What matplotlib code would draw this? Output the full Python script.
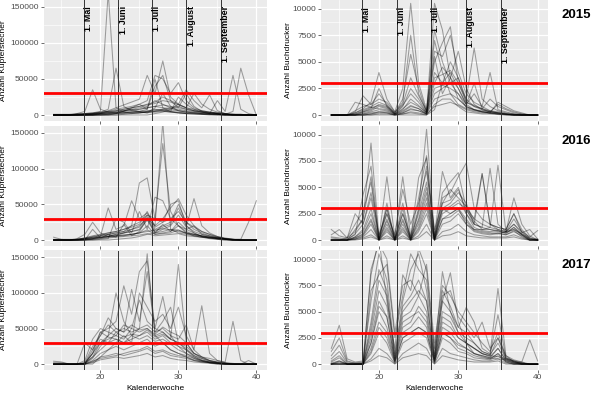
import matplotlib
matplotlib.use("Agg")
import matplotlib.pyplot as plt
import numpy as np
from matplotlib.ticker import MultipleLocator

plt.rcParams['font.family'] = ['Liberation Sans', 'DejaVu Sans']

weeks = list(range(14, 41))
years = ["2015", "2016", "2017"]
month_pos = [17.86, 22.29, 26.57, 31.0, 35.43]
month_labels = ["1. Mai", "1. Juni", "1. Juli", "1. August", "1. September"]
k_threshold = 30000
b_threshold = 3000

# Kupferstecher, values in thousands per trap
K15 = [
 [0,0,0,1,2,3,5,170,10,4,2,3,5,8,6,4,3,2,2,1,1,0,0,0,0,0,0],
 [0,0,0,0,1,2,4,8,65,12,6,4,3,5,7,5,3,2,1,1,0,0,0,0,0,0,0],
 [0,0,0,2,5,35,8,4,3,6,8,10,12,20,15,10,6,4,3,2,1,1,0,0,0,0,0],
 [0,0,0,0,0,1,3,6,10,14,18,22,55,30,75,25,15,10,6,4,2,1,0,0,0,0,0],
 [0,0,0,0,1,2,3,5,8,10,12,15,20,55,50,30,45,20,10,6,4,2,1,0,0,0,0],
 [0,0,0,0,0,0,2,4,6,8,10,12,15,18,25,20,15,10,30,15,8,4,2,0,0,0,0],
 [0,0,0,0,0,0,0,1,2,3,4,5,8,50,10,5,25,15,8,4,2,20,5,55,8,2,0],
 [0,0,0,0,0,0,0,0,0,1,2,3,4,6,8,10,12,8,6,4,3,2,1,5,65,28,0],
 [0,0,0,0,0,0,1,2,3,5,6,8,10,12,14,12,10,8,6,5,4,3,2,1,0,0,0],
 [0,0,0,1,2,3,4,5,6,8,10,12,14,16,20,18,14,10,8,6,4,3,2,1,1,0,0],
 [0,0,0,0,0,1,2,3,4,6,8,5,3,10,30,12,6,4,3,2,1,1,0,0,0,0,0],
 [1,1,1,2,2,2,2,3,3,4,4,5,6,7,8,7,6,5,4,3,2,2,1,1,1,0,0],
 [0,0,0,0,0,0,0,0,2,5,10,15,8,40,55,20,10,30,12,5,3,2,1,0,0,0,0],
 [0,0,0,0,0,0,0,0,0,0,0,0,0,2,4,8,15,35,20,10,28,6,2,0,0,0,0],
 [0,0,0,0,1,1,2,2,3,3,4,4,5,5,6,5,4,3,3,2,2,1,1,0,0,0,0],
 [0,0,0,1,1,2,3,4,5,6,7,8,10,12,10,9,8,6,5,4,3,2,1,1,0,0,0],
 [0,0,0,0,0,0,1,1,2,2,3,3,4,4,5,4,3,2,2,1,1,1,0,0,0,0,0],
]
K16 = [
 [4,1,0,2,8,25,10,5,6,10,15,20,30,20,165,15,10,8,6,4,3,2,1,1,0,0,0],
 [0,0,0,1,3,6,8,10,12,15,20,25,35,30,135,40,20,10,6,4,2,1,0,0,0,0,0],
 [0,0,0,0,2,4,6,8,10,12,20,80,87,30,25,50,55,20,10,5,3,1,0,0,0,0,0],
 [0,0,0,0,1,2,5,45,15,20,55,30,38,20,30,45,58,35,20,12,8,4,2,0,0,0,0],
 [0,0,0,1,2,4,6,8,10,12,15,18,35,15,20,25,50,25,15,10,6,4,2,1,0,0,0],
 [0,0,0,0,0,1,3,5,8,10,12,15,32,12,18,22,45,20,12,8,5,3,1,0,0,0,0],
 [0,0,0,0,0,2,4,6,8,10,12,14,28,10,15,20,35,18,58,20,10,5,2,0,0,0,0],
 [0,0,0,0,0,0,0,0,1,2,3,5,8,10,12,15,14,10,8,6,4,3,2,1,1,25,55],
 [1,1,1,1,2,3,4,5,6,7,8,10,12,14,16,14,12,10,8,6,4,3,2,1,1,0,0],
 [0,0,0,1,3,5,7,10,12,15,18,22,40,18,25,30,40,25,18,12,8,5,3,1,0,0,0],
 [0,0,0,0,1,2,3,4,5,6,8,10,20,8,10,12,20,12,8,6,4,2,1,0,0,0,0],
 [0,0,0,0,0,0,1,2,30,25,10,40,15,60,55,30,20,15,10,5,3,2,1,0,0,0,0],
 [0,0,0,1,2,3,4,5,6,7,8,10,14,8,9,10,14,9,7,5,4,3,2,1,0,0,0],
 [0,0,0,0,1,1,2,3,4,5,6,7,9,6,7,8,9,6,5,4,3,2,1,0,0,0,0],
 [0,0,0,0,0,15,3,8,4,22,6,12,30,10,22,12,25,15,20,8,6,3,1,0,0,0,0],
]
K17 = [
 [4,3,0,0,1,10,30,40,100,60,40,50,155,40,30,20,15,10,5,3,2,1,0,0,0,0,0],
 [2,2,0,0,2,15,45,50,60,110,70,130,145,50,95,40,25,15,8,4,2,1,0,0,0,0,0],
 [0,0,0,0,30,20,40,65,50,45,105,60,130,45,60,80,30,20,10,5,3,2,1,0,0,0,0],
 [0,0,0,0,5,35,50,45,40,55,50,90,60,50,45,35,140,30,15,10,5,3,1,0,0,0,0],
 [0,0,0,0,2,25,40,55,45,50,45,50,55,45,50,40,35,55,20,82,15,5,2,0,0,0,0],
 [0,0,0,0,1,15,30,35,40,35,50,45,50,40,45,35,30,25,15,10,8,5,3,60,5,0,0],
 [0,0,0,0,1,10,20,30,35,30,35,40,45,35,40,30,25,20,12,8,5,3,2,1,0,5,0],
 [0,0,0,0,0,5,15,20,25,20,25,30,35,25,30,20,15,12,8,5,3,2,1,0,0,0,0],
 [0,0,0,0,0,3,10,12,15,12,15,18,22,15,18,12,10,8,5,3,2,1,0,0,0,0,0],
 [0,0,0,0,0,2,6,8,10,8,10,12,15,10,12,8,6,5,3,2,1,0,0,0,0,0,0],
 [0,0,0,0,0,8,25,40,50,45,55,48,50,42,52,45,40,30,15,8,4,2,1,0,0,0,0],
 [0,0,0,0,0,0,10,20,30,40,30,100,80,60,70,50,80,40,20,10,5,2,0,0,0,0,0],
 [0,0,0,0,0,15,35,30,45,38,42,40,48,38,42,35,30,22,12,6,3,1,0,0,0,0,0],
 [0,0,0,0,0,4,8,10,12,15,18,20,25,18,20,15,12,10,6,4,2,1,0,0,0,0,0],
 [0,0,0,0,0,20,45,38,35,30,40,35,40,32,35,28,20,15,10,5,2,0,0,0,0,0,0],
]

# Buchdrucker, counts per trap
B15 = [
 [0,0,0,200,600,1200,4000,1500,300,2500,10500,3000,500,7000,4000,2000,1000,600,400,300,200,100,0,0,0,0,0],
 [0,0,0,400,800,1000,2000,1000,200,1500,5700,2500,300,10500,8000,3500,1500,800,500,300,200,100,50,0,0,0,0],
 [0,0,0,100,300,500,1000,800,100,800,2500,1500,200,5000,6800,8300,3000,1500,6300,1500,800,400,200,100,0,0,0],
 [0,0,0,300,1800,1000,1500,1200,300,1000,3500,1800,400,6000,5500,7500,4000,2000,1200,800,4000,500,300,100,0,0,0],
 [0,0,0,0,200,400,800,600,100,600,1200,800,200,4000,3000,5000,3500,1500,800,500,300,1000,600,300,100,0,0],
 [0,0,0,100,400,700,900,700,100,500,1500,900,200,3000,4500,3500,2500,1000,2000,800,400,200,100,0,0,0,0],
 [0,0,0,1200,1000,700,600,500,100,300,800,600,100,2000,2500,3000,3500,1200,800,600,1500,800,500,200,100,0,0],
 [0,0,0,0,100,200,300,300,50,200,500,400,100,1500,1800,2000,1500,800,500,400,300,200,100,50,0,0,0],
 [0,0,0,0,0,100,200,200,0,100,300,200,50,800,1000,1200,900,500,300,200,150,100,50,0,0,0,0],
 [0,0,0,0,300,600,2500,800,200,1200,7500,2000,300,8000,5000,3000,2000,1000,3000,600,300,200,100,0,0,0,0],
 [0,0,0,0,0,0,0,0,0,0,0,0,0,500,3000,4000,2500,1000,500,300,200,1200,800,400,200,0,0],
 [0,0,0,0,0,100,300,200,0,200,600,400,100,5500,2000,3500,6000,2500,1000,500,300,200,100,0,0,0,0],
 [0,0,0,200,500,800,1200,900,150,900,2000,1200,200,3500,3800,4200,3000,1200,900,600,400,300,150,50,0,0,0],
 [0,0,0,0,100,300,500,400,50,400,900,600,100,2500,2800,2500,2000,700,500,300,200,150,50,0,0,0,0],
 [0,0,0,0,0,0,100,100,0,100,200,100,0,1000,1500,1500,800,300,200,100,100,50,0,0,0,0,0],
]
B16 = [
 [1000,400,200,800,2000,9200,300,3000,200,2500,300,3000,10500,500,3000,2500,3000,1500,1000,800,700,600,800,1500,800,300,900],
 [300,200,100,500,4300,7000,200,6000,300,6000,400,4000,8000,400,6500,4000,5000,2500,1500,1200,1000,900,700,1000,600,200,100],
 [0,0,200,1500,2700,5500,100,3000,100,3500,200,5900,7800,300,4500,5500,6400,3000,2000,1500,1200,1000,800,4000,1500,400,0],
 [0,0,0,600,1500,4000,100,2500,100,2500,200,2500,5500,200,4000,4500,6000,7300,3000,2000,1500,1200,1000,2500,1000,200,0],
 [0,0,0,300,1000,3000,50,2000,50,2000,100,2000,5000,100,3000,3500,4500,3500,1500,6300,1500,1000,800,2000,800,100,0],
 [0,0,0,200,600,2000,50,1500,50,1500,100,1500,4000,100,2500,3000,3500,3000,1500,1200,6800,1500,800,1500,600,100,0],
 [0,0,0,100,400,1500,0,1000,0,1000,50,1000,3000,50,2000,2500,3000,2000,1000,1000,1200,7100,800,1000,500,0,0],
 [0,0,0,100,300,1000,0,800,0,800,0,800,2500,0,1500,1800,2500,1500,800,600,500,600,500,800,400,0,0],
 [0,0,0,50,200,500,0,400,0,400,0,400,1500,0,800,1000,1500,800,500,400,300,300,300,500,200,0,0],
 [0,0,0,0,100,300,0,200,0,200,0,200,800,0,400,500,800,400,300,200,200,200,200,300,100,0,0],
 [500,1000,200,2500,1500,4500,500,2500,500,4800,1500,3500,6500,1000,3500,4800,4000,3200,2000,6300,1500,1200,1000,2500,700,1000,100],
 [0,0,0,300,800,2500,100,1800,100,1800,100,1800,4500,100,2800,3200,3800,2500,1200,900,800,900,600,1200,500,100,0],
 [0,0,0,200,500,1800,0,1200,0,1200,0,1200,3500,0,2000,2200,2800,1800,900,700,600,700,500,900,300,0,0],
 [200,100,0,1000,2000,6000,0,3500,0,3000,0,2800,7000,0,3500,3800,4800,2800,1800,1000,1000,800,700,1200,500,0,0],
]
B17 = [
 [1500,3700,500,200,300,8500,12000,6000,1500,8500,7000,11000,9000,1000,8800,5000,3000,2000,1500,1000,800,700,500,300,200,0,0],
 [1200,2500,300,100,200,6000,10500,8000,1000,6000,9000,10500,7000,800,6000,8700,4000,2000,1000,800,600,500,400,200,100,0,0],
 [800,1800,200,100,100,4000,9000,7000,800,5500,6500,8000,6000,600,7000,5500,3500,5400,4000,1500,1000,7200,800,400,200,2300,300],
 [500,1200,100,0,100,3000,7000,5500,500,4500,5000,6500,5000,500,5000,4500,3000,2500,2000,1200,900,4700,600,300,100,0,0],
 [200,600,0,0,0,2500,6000,4500,400,3500,4000,5500,4500,400,4000,3500,2500,2000,1500,1000,800,2500,500,200,100,0,0],
 [100,300,0,0,0,2000,5000,3500,300,3000,3500,4500,3500,300,3500,3000,2000,1500,1000,800,600,1500,400,100,0,0,0],
 [0,200,0,0,0,1500,4000,3000,200,2500,3000,3500,3000,200,3000,2500,1500,1200,800,600,500,1000,300,100,0,0,0],
 [0,100,0,0,0,1000,3000,2000,100,2000,2500,3000,2500,100,2500,2000,1200,1000,600,500,400,800,200,0,0,0,0],
 [0,0,0,0,0,500,1500,1000,50,1000,1500,2000,1500,50,1500,1000,800,600,400,300,300,500,100,0,0,0,0],
 [0,0,0,0,0,300,800,600,0,600,800,1000,800,0,800,600,400,300,200,200,200,300,0,0,0,0,0],
 [0,0,0,0,0,9000,11500,10000,3000,7500,8000,6500,9500,2000,7500,6500,5000,4000,3000,2000,1200,3000,600,300,0,0,0],
 [0,0,0,0,0,7000,8500,9500,2500,6500,10500,9000,8000,1500,6500,7000,4500,3500,2500,4000,1500,2500,800,200,100,0,0],
 [300,800,0,0,0,3500,8000,6500,600,5000,6000,7000,6000,500,6000,5000,3500,3000,2000,1200,900,2000,500,200,0,0,0],
 [0,300,0,0,0,2000,5500,4500,300,4000,4500,5000,4000,300,4500,4000,2500,2000,1500,1000,700,1500,300,100,0,0,0],
 [0,0,0,0,0,1200,3500,2500,200,2500,3000,3500,3000,200,3000,2500,1800,1500,1000,700,500,1000,200,0,0,0,0],
]

K_data = [K15, K16, K17]
B_data = [B15, B16, B17]

W, H = 600, 398
fig = plt.figure(figsize=(W / 100, H / 100), dpi=100)

rows_px = [(0, 120.5), (126, 245.5), (250.5, 369.5)]
left_px = (43.5, 266.5)
right_px = (321, 548)

def ax_at(xp, yp):
    x0, x1 = xp
    y0, y1 = yp
    return fig.add_axes([x0 / W, 1 - y1 / H, (x1 - x0) / W, (y1 - y0) / H])

def style(ax, ylim, ymajor, yminor):
    ax.set_facecolor('#EBEBEB')
    for s in ax.spines.values():
        s.set_visible(False)
    ax.set_xlim(12.7, 41.3)
    ax.set_ylim(*ylim)
    ax.xaxis.set_major_locator(MultipleLocator(10))
    ax.xaxis.set_minor_locator(MultipleLocator(5))
    ax.yaxis.set_major_locator(MultipleLocator(ymajor))
    ax.yaxis.set_minor_locator(MultipleLocator(yminor))
    ax.grid(which='major', color='white', lw=0.9, zorder=0)
    ax.grid(which='minor', color='white', lw=0.45, zorder=0)
    ax.set_axisbelow(True)
    ax.tick_params(which='major', length=2.2, width=0.5, color='#333333',
                   labelsize=6, labelcolor='#4D4D4D', pad=1.2)
    ax.tick_params(which='minor', length=0)

wk = np.array(weeks)
for r in range(3):
    # Kupferstecher panel
    ax = ax_at(left_px, rows_px[r])
    style(ax, (-7600, 159600), 50000, 25000)
    for s in K_data[r]:
        ax.plot(wk, np.array(s) * 1000, color='black', alpha=0.35, lw=0.75, zorder=2)
    for m in month_pos:
        ax.axvline(m, color='#333333', lw=0.7, zorder=3)
    ax.axhline(k_threshold, color='#FF0000', lw=2, zorder=4)
    ax.set_ylabel('Anzahl Kupferstecher', fontsize=6, color='black')
    ax.yaxis.set_label_coords((7 - left_px[0]) / (left_px[1] - left_px[0]), 0.5)
    if r == 2:
        ax.set_xlabel('Kalenderwoche', fontsize=6, color='black')
        ax.xaxis.set_label_coords(0.5, -(385 - rows_px[r][1]) / (rows_px[r][1] - rows_px[r][0]))
    else:
        ax.tick_params(axis='x', labelbottom=False)
    if r == 0:
        for m, lab in zip(month_pos, month_labels):
            ax.text(m + 0.65, 151000, lab, rotation=90, ha='center', va='top',
                    fontsize=6.4, fontweight='bold', zorder=5)

    # Buchdrucker panel
    ax = ax_at(right_px, rows_px[r])
    style(ax, (-515, 10815), 2500, 1250)
    for s in B_data[r]:
        ax.plot(wk, s, color='black', alpha=0.35, lw=0.75, zorder=2)
    for m in month_pos:
        ax.axvline(m, color='#333333', lw=0.7, zorder=3)
    ax.axhline(b_threshold, color='#FF0000', lw=2, zorder=4)
    ax.set_ylabel('Anzahl Buchdrucker', fontsize=6, color='black')
    ax.yaxis.set_label_coords((292 - right_px[0]) / (right_px[1] - right_px[0]), 0.5)
    if r == 2:
        ax.set_xlabel('Kalenderwoche', fontsize=6, color='black')
        ax.xaxis.set_label_coords(0.5, -(385 - rows_px[r][1]) / (rows_px[r][1] - rows_px[r][0]))
    else:
        ax.tick_params(axis='x', labelbottom=False)
    if r == 0:
        for m, lab in zip(month_pos, month_labels):
            ax.text(m + 0.55, 10150, lab, rotation=90, ha='center', va='top',
                    fontsize=6.4, fontweight='bold', zorder=5)
    fig.text(576 / W, 1 - (rows_px[r][0] + 15) / H, years[r], ha='center', va='center',
             fontsize=9.5, fontweight='bold')

fig.savefig('out.png', dpi=100)
